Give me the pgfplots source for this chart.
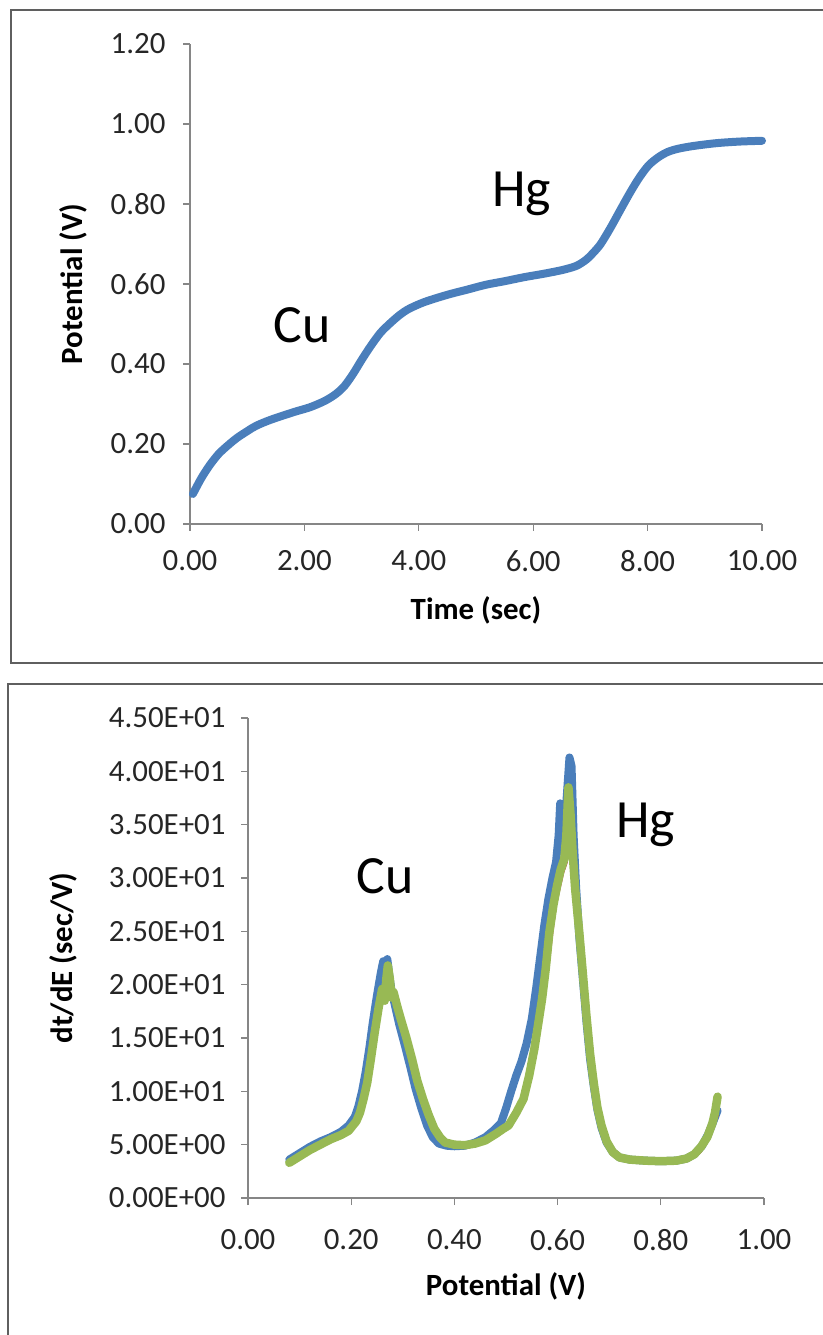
\documentclass[border=0pt]{standalone}
\usepackage{fontspec}
\setmainfont{Carlito}
\usepackage{pgfplots}
\pgfplotsset{compat=1.18}
\definecolor{xlblue}{HTML}{4A7EBB}
\definecolor{xlred}{HTML}{BE4B48}
\definecolor{xlgreen}{HTML}{98B954}
\definecolor{axgray}{HTML}{868686}
\definecolor{boxgray}{HTML}{5F5F5F}
\pgfplotsset{xlstyle/.style={
  scale only axis, axis lines=left, axis line style={axgray, line width=1.2bp, -},
  tick align=outside, major tick length=7bp, tick style={axgray, line width=1.2bp},
  every tick label/.append style={font=\fontsize{31}{36}\selectfont, text=black!85},
  label style={font=\bfseries\fontsize{31}{36}\selectfont, text=black},
  clip=false,
  /pgf/number format/.cd, fixed, fixed zerofill, precision=2, assume math mode=true,
}}
\begin{document}
\begin{tikzpicture}
\useasboundingbox (0bp,0bp) rectangle (823bp,1335bp);
\draw[boxgray, line width=2.5bp] (11bp,672bp) rectangle (840bp,1325bp);
\draw[boxgray, line width=2.5bp] (8bp,-20bp) rectangle (840bp,651bp);

\begin{axis}[xlstyle, at={(190bp,811bp)}, anchor=south west, width=572bp, height=480bp,
  xmin=0, xmax=10, ymin=0, ymax=1.2,
  xtick={0,2,4,6,8,10}, ytick={0,0.2,0.4,0.6,0.8,1.0,1.2},
  xticklabel style={yshift=-16bp}, yticklabel style={xshift=-14bp},
  xlabel={Time (sec)}, ylabel={Potential (V)},
  xlabel style={at={(axis description cs:0.5,-0.179)}, anchor=center},
  ylabel style={at={(axis description cs:-0.2045,0.5)}, anchor=center}]
\addplot[xlblue, line width=8bp, smooth, tension=0.5, line cap=round] coordinates {
(0.05,0.075) (0.2,0.115) (0.35,0.148) (0.5,0.175) (0.65,0.195) (0.82,0.215)
(1.0,0.232) (1.15,0.245) (1.4,0.260) (1.82,0.280) (2.1,0.292) (2.36,0.308)
(2.55,0.325) (2.7,0.345) (2.85,0.375) (3.0,0.410) (3.16,0.445) (3.33,0.478)
(3.5,0.502) (3.67,0.523) (3.83,0.538) (4.1,0.555) (4.5,0.573) (4.85,0.586)
(5.17,0.598) (5.5,0.607) (5.84,0.617) (6.2,0.626) (6.51,0.635) (6.75,0.645)
(6.92,0.660) (7.05,0.678) (7.18,0.700) (7.35,0.740) (7.52,0.784) (7.7,0.830)
(7.86,0.867) (8.02,0.897) (8.19,0.917) (8.35,0.930) (8.53,0.938) (8.8,0.945)
(9.2,0.952) (9.6,0.956) (10.0,0.958)};
\node[font=\fontsize{54}{60}\selectfont, anchor=base] at (axis cs:1.96,0.4525) {Cu};
\node[font=\fontsize{54}{60}\selectfont, anchor=base] at (axis cs:5.80,0.7925) {Hg};
\end{axis}

\begin{axis}[xlstyle, at={(248bp,137bp)}, anchor=south west, width=516bp, height=480bp,
  xmin=0, xmax=1, ymin=0, ymax=45,
  xtick={0,0.2,0.4,0.6,0.8,1.0}, ytick={0,5,10,15,20,25,30,35,40,45},
  yticklabels={0.00E+00,5.00E+00,1.00E+01,1.50E+01,2.00E+01,2.50E+01,3.00E+01,3.50E+01,4.00E+01,4.50E+01},
  xticklabel style={yshift=-21bp}, yticklabel style={xshift=-12bp},
  xlabel={Potential (V)}, ylabel={dt/dE (sec/V)},
  xlabel style={at={(axis description cs:0.5,-0.185)}, anchor=center},
  ylabel style={at={(axis description cs:-0.3585,0.5)}, anchor=center}]
\addplot[xlblue, line width=8bp, line join=round, line cap=round] coordinates {
(0.080,3.6) (0.10,4.2) (0.12,4.8) (0.14,5.3) (0.16,5.7) (0.18,6.2) (0.195,6.8)
(0.207,7.6) (0.214,8.6) (0.221,10.0) (0.228,11.8) (0.235,14.0) (0.242,16.5)
(0.250,19.0) (0.257,21.0) (0.262,22.2) (0.266,20.5) (0.270,22.4) (0.274,20.8)
(0.278,19.5) (0.285,18.0) (0.293,16.3) (0.304,14.3) (0.315,12.2) (0.325,10.2)
(0.336,8.4) (0.347,6.8) (0.358,5.7) (0.37,5.1) (0.385,4.9) (0.40,4.85) (0.42,4.9)
(0.44,5.2) (0.46,5.7) (0.475,6.3) (0.49,7.0) (0.50,8.4) (0.51,10.0) (0.52,11.5)
(0.53,12.8) (0.54,14.5) (0.55,16.8) (0.558,19.5) (0.566,22.5) (0.574,25.5)
(0.582,28.0) (0.590,30.0) (0.597,31.5) (0.602,34.0) (0.605,37.0) (0.609,33.5)
(0.614,35.0) (0.619,38.5) (0.623,41.3) (0.627,40.5) (0.631,34.0) (0.636,29.0)
(0.642,24.5) (0.649,20.5) (0.656,16.5) (0.663,13.0) (0.670,10.5) (0.677,8.3)
(0.685,6.6) (0.695,5.2) (0.707,4.3) (0.72,3.8) (0.74,3.6) (0.77,3.5) (0.80,3.45)
(0.83,3.5) (0.85,3.7) (0.865,4.1) (0.88,4.9) (0.892,6.0) (0.902,7.2) (0.91,8.2)};
\addplot[xlred, line width=3bp, line join=round] coordinates {
(0.082,3.3) (0.10,3.8) (0.12,4.4) (0.14,4.9) (0.16,5.3) (0.18,5.8) (0.198,6.3)
(0.212,7.1) (0.220,8.0) (0.227,9.3) (0.234,11.0) (0.241,13.0) (0.249,15.5)
(0.256,17.8) (0.263,19.4) (0.268,18.3) (0.272,20.5) (0.277,19.5) (0.283,18.6)
(0.292,17.5) (0.300,16.3) (0.311,14.5) (0.322,12.5) (0.332,10.5) (0.343,8.8)
(0.354,7.3) (0.365,6.1) (0.376,5.4) (0.388,5.0) (0.405,4.85) (0.425,4.85)
(0.445,5.0) (0.465,5.3) (0.485,5.9) (0.50,6.5) (0.51,7.0) (0.525,8.2) (0.538,9.6)
(0.549,11.8) (0.559,14.2) (0.567,16.8) (0.574,19.0) (0.581,21.5) (0.588,24.5)
(0.596,27.5) (0.603,29.0) (0.610,30.5) (0.617,31.5) (0.621,35.0) (0.625,37.5)
(0.628,34.0) (0.633,31.0) (0.638,28.0) (0.645,24.5) (0.652,20.5) (0.659,16.5)
(0.667,13.0) (0.674,10.5) (0.682,8.2) (0.690,6.6) (0.700,5.2) (0.712,4.2)
(0.727,3.8) (0.75,3.5) (0.78,3.4) (0.81,3.4) (0.84,3.5) (0.86,3.8) (0.876,4.3)
(0.89,5.4) (0.90,6.5) (0.91,7.8)};
\addplot[xlgreen, line width=8.5bp, line join=round, line cap=round] coordinates {
(0.080,3.3) (0.10,3.9) (0.12,4.5) (0.14,5.0) (0.16,5.5) (0.18,5.9) (0.195,6.3)
(0.210,7.2) (0.217,8.0) (0.224,9.3) (0.231,10.8) (0.238,13.0) (0.2455,15.5)
(0.253,17.8) (0.260,19.6) (0.265,18.5) (0.268,20.5) (0.271,21.8) (0.275,20.5)
(0.278,18.8) (0.282,19.3) (0.289,18.0) (0.296,16.8) (0.307,15.0) (0.318,13.0)
(0.328,11.0) (0.339,9.3) (0.350,7.8) (0.361,6.5) (0.372,5.7) (0.382,5.2)
(0.40,5.0) (0.42,4.95) (0.44,5.1) (0.46,5.4) (0.48,6.0) (0.495,6.5) (0.505,6.8)
(0.52,8.0) (0.534,9.3) (0.545,11.5) (0.555,14.0) (0.563,16.5) (0.570,18.7)
(0.577,21.5) (0.584,24.9) (0.592,27.5) (0.599,29.3) (0.606,30.8) (0.613,31.8)
(0.617,34.0) (0.621,38.5) (0.625,36.0) (0.629,32.5) (0.634,29.0) (0.642,24.9)
(0.649,21.0) (0.656,17.0) (0.663,13.5) (0.670,10.8) (0.677,8.5) (0.685,6.8)
(0.695,5.3) (0.707,4.3) (0.72,3.8) (0.74,3.6) (0.77,3.5) (0.80,3.45) (0.83,3.5)
(0.85,3.7) (0.865,4.1) (0.878,4.8) (0.89,5.7) (0.90,7.0) (0.905,8.0) (0.91,9.5)};
\node[font=\fontsize{54}{60}\selectfont, anchor=base] at (axis cs:0.2655,28.5) {Cu};
\node[font=\fontsize{54}{60}\selectfont, anchor=base] at (axis cs:0.771,33.8) {Hg};
\end{axis}
\end{tikzpicture}
\end{document}
